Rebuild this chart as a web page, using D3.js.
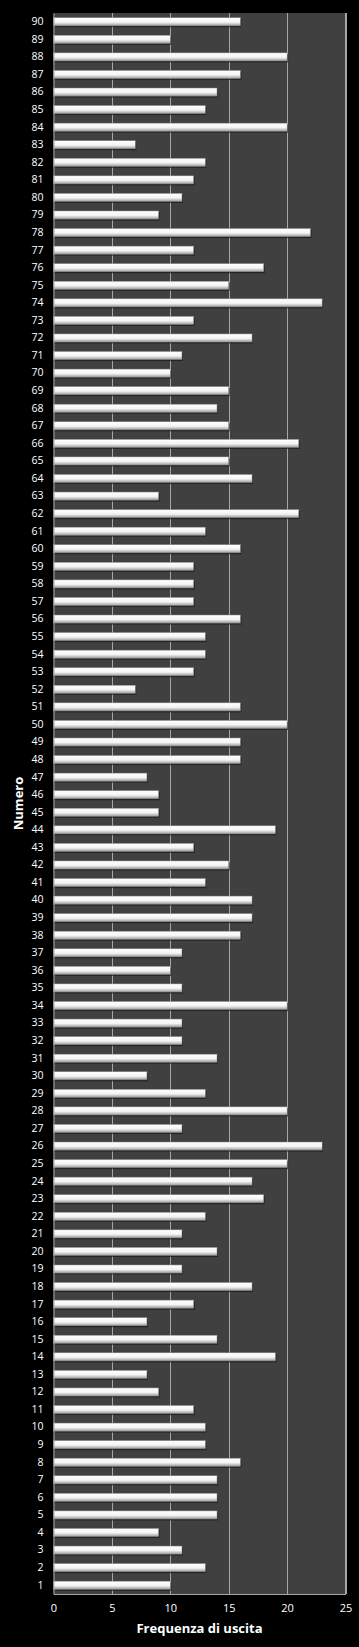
<!DOCTYPE html>
<html>
<head>
<meta charset="utf-8">
<script src="https://cdn.jsdelivr.net/npm/d3@7"></script>
<style>
  body { margin: 0; background: #000; }
  svg text { font-family: "Open Sans", "Noto Sans", sans-serif; }
</style>
</head>
<body>
<div id="chart"></div>
<script>
// numbers 1..90 (estrazioni) and how many times each came out
const numeri = d3.range(1, 91).map(String);
const frequenze = [
  10, 13, 11, 9, 14, 14, 14, 16, 13, 13,
  12, 9, 8, 19, 14, 8, 12, 17, 11, 14,
  11, 13, 18, 17, 20, 23, 11, 20, 13, 8,
  14, 11, 11, 20, 11, 10, 11, 16, 17, 17,
  13, 15, 12, 19, 9, 9, 8, 16, 16, 20,
  16, 7, 12, 13, 13, 16, 12, 12, 12, 16,
  13, 21, 9, 17, 15, 21, 15, 14, 15, 10,
  11, 17, 12, 23, 15, 18, 12, 22, 9, 11,
  12, 13, 7, 20, 13, 14, 16, 20, 10, 16
];
const xTicks = [0, 5, 10, 15, 20, 25];

const width = 359,
  height = 1647,
  margin = { top: 13, bottom: 53, left: 53.5, right: 13.5 };

const data = numeri.map((n, i) => ({ numero: n, freq: frequenze[i] }));

const svg = d3.select("#chart")
  .append("svg")
  .attr("width", width)
  .attr("height", height)
  .style("background", "#000");

const defs = svg.append("defs");
const grad = defs.append("linearGradient")
  .attr("id", "barGrad")
  .attr("x1", 0).attr("y1", 0).attr("x2", 0).attr("y2", 1);
grad.append("stop").attr("offset", "0%").attr("stop-color", "#ffffff");
grad.append("stop").attr("offset", "55%").attr("stop-color", "#f4f4f4");
grad.append("stop").attr("offset", "100%").attr("stop-color", "#9a9a9a");

const xScale = d3.scaleLinear()
  .domain([0, 25])
  .range([margin.left, width - margin.right]);

// 90 on top, 1 at bottom
const yScale = d3.scaleBand()
  .domain(numeri.slice().reverse())
  .range([margin.top, height - margin.bottom])
  .paddingInner(0.54)
  .paddingOuter(0.27);

// plot area
svg.append("rect")
  .attr("x", xScale(0))
  .attr("y", margin.top)
  .attr("width", xScale(25) - xScale(0))
  .attr("height", height - margin.bottom - margin.top)
  .attr("fill", "#404040");

// vertical gridlines
svg.append("g")
  .selectAll("line")
  .data(xTicks.slice(1))
  .enter()
  .append("line")
  .attr("x1", d => Math.round(xScale(d)) + 0.5)
  .attr("x2", d => Math.round(xScale(d)) + 0.5)
  .attr("y1", margin.top)
  .attr("y2", height - margin.bottom)
  .attr("stroke", "#a6a6a6")
  .attr("stroke-width", 1);

// bar shadows
svg.append("g")
  .selectAll("rect")
  .data(data)
  .enter()
  .append("rect")
  .attr("x", xScale(0) + 1)
  .attr("y", d => yScale(d.numero) + 1.5)
  .attr("width", d => xScale(d.freq) - xScale(0))
  .attr("height", yScale.bandwidth())
  .attr("fill", "#1a1a1a")
  .attr("opacity", 0.7);

// bars
svg.append("g")
  .selectAll("rect")
  .data(data)
  .enter()
  .append("rect")
  .attr("x", xScale(0))
  .attr("y", d => yScale(d.numero))
  .attr("width", d => xScale(d.freq) - xScale(0))
  .attr("height", yScale.bandwidth())
  .attr("fill", "url(#barGrad)")
  .attr("stroke", "#8a8a8a")
  .attr("stroke-width", 0.5);

// x axis
const xAxis = svg.append("g")
  .attr("transform", "translate(0," + (height - margin.bottom) + ")")
  .call(d3.axisBottom(xScale).tickValues(xTicks).tickSize(0).tickPadding(10));
xAxis.select(".domain").attr("stroke", "#a6a6a6");
xAxis.selectAll("text")
  .attr("fill", "#ffffff")
  .style("font-size", "11px");

// y axis
const yAxis = svg.append("g")
  .attr("transform", "translate(" + xScale(0) + ",0)")
  .call(d3.axisLeft(yScale).tickSize(0).tickPadding(10));
yAxis.select(".domain").attr("stroke", "#a6a6a6");
yAxis.selectAll("text")
  .attr("fill", "#ffffff")
  .style("font-size", "10.5px");

// right border of plot
svg.append("line")
  .attr("x1", xScale(25)).attr("x2", xScale(25))
  .attr("y1", margin.top).attr("y2", height - margin.bottom)
  .attr("stroke", "#a6a6a6");

// axis titles
svg.append("text")
  .attr("x", (xScale(0) + xScale(25)) / 2)
  .attr("y", 1633)
  .attr("text-anchor", "middle")
  .attr("fill", "#ffffff")
  .style("font-size", "13px")
  .style("font-weight", "bold")
  .text("Frequenza di uscita");

svg.append("text")
  .attr("transform", "translate(23," + ((margin.top + height - margin.bottom) / 2) + ") rotate(-90)")
  .attr("text-anchor", "middle")
  .attr("fill", "#ffffff")
  .style("font-size", "13px")
  .style("font-weight", "bold")
  .text("Numero");
</script>
</body>
</html>
